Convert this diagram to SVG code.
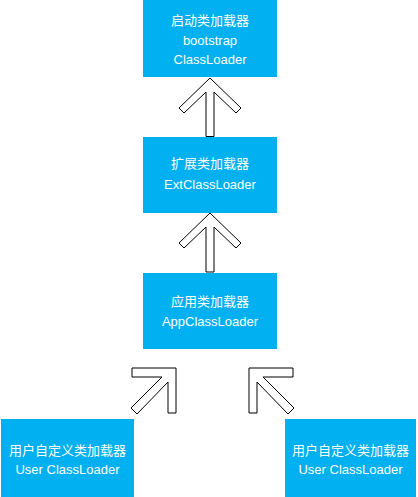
<svg xmlns="http://www.w3.org/2000/svg" width="418" height="497" viewBox="0 0 418 497">
<style>
.box{fill:#00B0F0;}
.t{fill:#FFFFFF;font-family:"Liberation Sans","Noto Sans CJK SC",sans-serif;font-size:13px;text-anchor:middle;}
.arr{fill:#FFFFFF;stroke:#000000;stroke-width:1;stroke-linejoin:miter;}
</style>
<rect width="418" height="497" fill="#FFFFFF"/>
<g id="connectors">
<polygon class="arr" points="210,78 241,108 236,113 214,92 214,136.5 206,136.5 206,92 184,113 179,108"/>
<polygon class="arr" points="210,213 241,243 236,248 214,227 214,272 206,272 206,227 184,248 179,243"/>
<polygon class="arr" points="176,368 176,413 168,413 168,382 137,414 131,408 162,377 132,377 132,368"/>
<polygon class="arr" points="249,368 293,368 293,377 263,377 294,408 288,414 257,382 257,413 249,413"/>
</g>
<g id="bootstrap">
<rect class="box" x="143" y="0" width="134" height="77"/>
<text class="t" x="210" y="25">启动类加载器</text>
<text class="t" x="210" y="45">bootstrap</text>
<text class="t" x="210" y="64">ClassLoader</text>
</g>
<g id="ext">
<rect class="box" x="143" y="137" width="134" height="76"/>
<text class="t" x="210" y="168">扩展类加载器</text>
<text class="t" x="210" y="189">ExtClassLoader</text>
</g>
<g id="app">
<rect class="box" x="143" y="273" width="134" height="76"/>
<text class="t" x="210" y="306">应用类加载器</text>
<text class="t" x="210" y="326">AppClassLoader</text>
</g>
<g id="user1">
<rect class="box" x="1" y="419" width="133" height="78"/>
<text class="t" x="67.5" y="455">用户自定义类加载器</text>
<text class="t" x="67.5" y="474">User ClassLoader</text>
</g>
<g id="user2">
<rect class="box" x="285" y="419" width="131" height="78"/>
<text class="t" x="350.5" y="455">用户自定义类加载器</text>
<text class="t" x="350.5" y="474">User ClassLoader</text>
</g>
</svg>
